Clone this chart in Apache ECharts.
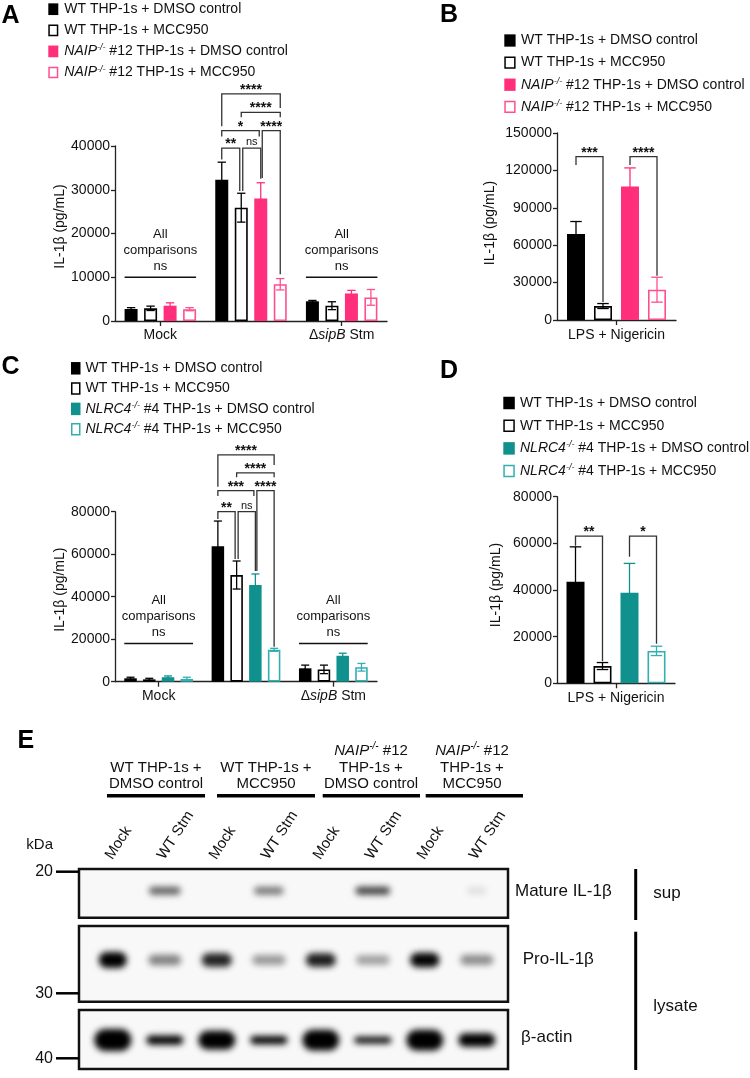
<!DOCTYPE html>
<html>
<head>
<meta charset="utf-8">
<script src="https://cdn.jsdelivr.net/npm/echarts@6.0.0/dist/echarts.min.js"></script>
<style>
html,body{margin:0;padding:0;background:#fff;}
#chart{width:750px;height:1078px;}
</style>
</head>
<body>
<div id="chart"></div>
<script>
// ======================= DATA =======================
const groupCategories = ['Mock', 'WT Stm', 'ΔsipB Stm'];
const stimCategories = ['LPS + Nigericin'];

const yTicksA = [0, 10000, 20000, 30000, 40000];
const yTicksB = [0, 30000, 60000, 90000, 120000, 150000];
const yTicksC = [0, 20000, 40000, 60000, 80000];
const yTicksD = [0, 20000, 40000, 60000, 80000];
const yAxisTitle = 'IL-1β (pg/mL)';

const seriesNAIP = ['WT THP-1s + DMSO control', 'WT THP-1s + MCC950', 'NAIP-/- #12 THP-1s + DMSO control', 'NAIP-/- #12 THP-1s + MCC950'];
const seriesNLRC4 = ['WT THP-1s + DMSO control', 'WT THP-1s + MCC950', 'NLRC4-/- #4 THP-1s + DMSO control', 'NLRC4-/- #4 THP-1s + MCC950'];

// Panel A (mean, SEM) per series across Mock / WT Stm / ΔsipB Stm
const A_wtDmso = [2750, 32300, 4500];
const A_wtMcc = [2900, 25900, 3500];
const A_koDmso = [3500, 28000, 6300];
const A_koMcc = [2700, 8400, 5400];
const A_wtDmsoErr = [300, 4000, 200];
const A_wtMccErr = [500, 3300, 900];
const A_koDmsoErr = [650, 3600, 700];
const A_koMccErr = [350, 1300, 1800];

// Panel B
const B_wtDmso = [69000];
const B_wtMcc = [11200];
const B_koDmso = [107000];
const B_koMcc = [24300];
const B_wtDmsoErr = [10000];
const B_wtMccErr = [2000];
const B_koDmsoErr = [15000];
const B_koMccErr = [10000];

// Panel C
const C_wtDmso = [1600, 63800, 6300];
const C_wtMcc = [1100, 50200, 5800];
const C_koDmso = [2100, 45500, 12200];
const C_koMcc = [1300, 15000, 6800];
const C_wtDmsoErr = [500, 11800, 1500];
const C_wtMccErr = [500, 6600, 2000];
const C_koDmsoErr = [600, 5200, 1200];
const C_koMccErr = [800, 700, 1800];

// Panel D
const D_wtDmso = [43500];
const D_wtMcc = [7400];
const D_koDmso = [38800];
const D_koMcc = [13900];
const D_wtDmsoErr = [15000];
const D_wtMccErr = [1500];
const D_koDmsoErr = [12600];
const D_koMccErr = [2000];

// Significance brackets: [category, from bar, to bar, bracket level, left-leg end, right-leg end, label]
const A_brackets = [
  [1, 0, 3, 51900, 44500, 48700, '****'],
  [1, 1, 3, 47700, 46600, 46600, '****'],
  [1, 0, 2, 43500, 42200, 42200, '*'],
  [1, 2, 3, 43500, 32700, 10700, '****'],
  [1, 0, 1, 39500, 36900, 29700, '**'],
  [1, 1, 2, 39500, 29700, 32500, 'ns']
];
const B_brackets = [
  [0, 0, 1, 131000, 124300, 14500, '***'],
  [0, 2, 3, 131000, 124300, 35500, '****']
];
const C_brackets = [
  [1, 0, 3, 106700, 91800, 102000, '****'],
  [1, 1, 3, 98300, 96200, 96200, '****'],
  [1, 0, 2, 89900, 87400, 87400, '***'],
  [1, 2, 3, 89900, 52100, 16500, '****'],
  [1, 0, 1, 80000, 76600, 57700, '**'],
  [1, 1, 2, 80000, 57700, 52100, 'ns']
];
const D_brackets = [
  [0, 0, 1, 63100, 59000, 9500, '**'],
  [0, 2, 3, 63100, 54300, 17000, '*']
];
// "All comparisons ns" notes: [category, line level]
const nsNoteWords = ['All', 'comparisons', 'ns'];
const A_nsNotes = [[0, 10000], [2, 10000]];
const C_nsNotes = [[0, 18000], [2, 18000]];

// Panel E (western blot): relative band intensity per lane
const blotLanes = ['Mock', 'WT Stm', 'Mock', 'WT Stm', 'Mock', 'WT Stm', 'Mock', 'WT Stm'];
const blotGroupHeaders = [
  ['WT THP-1s +', 'DMSO control'],
  ['WT THP-1s +', 'MCC950'],
  ['NAIP-/- #12', 'THP-1s +', 'DMSO control'],
  ['NAIP-/- #12', 'THP-1s +', 'MCC950']
];
const blotRowNames = ['Mature IL-1β', 'Pro-IL-1β', 'β-actin'];
const blotFractions = ['sup', 'lysate'];
const kDaMarkers = ['20', '30', '40'];
const matureIL1b = [0.0, 0.45, 0.0, 0.38, 0.0, 0.55, 0.0, 0.07];
const proIL1b = [1.0, 0.40, 0.72, 0.32, 0.74, 0.30, 0.82, 0.36];
const betaActin = [1.0, 0.75, 0.95, 0.72, 0.98, 0.68, 0.98, 0.85];

// ======================= STYLE =======================
const FONT = '"Liberation Sans", Arial, Helvetica, sans-serif';
const INK = '#111111';
const AXIS = '#222222';
const PINK = '#FF2F7B', PINK_LINE = '#FF4F8E';
const TEAL = '#10918E', TEAL_LINE = '#33AEB1';
const styleNAIP = [
  {fill: '#000000', line: '#000000'},
  {fill: '#ffffff', line: '#000000'},
  {fill: PINK, line: PINK},
  {fill: '#ffffff', line: PINK_LINE}
];
const styleNLRC4 = [
  {fill: '#000000', line: '#000000'},
  {fill: '#ffffff', line: '#000000'},
  {fill: TEAL, line: TEAL},
  {fill: '#ffffff', line: TEAL_LINE}
];

function richLabel(t) {
  const m = t.match(/^([A-Z0-9]+)(-\/-)(.*)$/);
  return m ? '{i|' + m[1] + '}{s|' + m[2] + '}{n|' + m[3] + '}' : '{n|' + t + '}';
}
function richStyles(size) {
  return {
    n: {fontSize: size, fontFamily: FONT, color: INK, fill: INK},
    i: {fontSize: size, fontFamily: FONT, color: INK, fill: INK, fontStyle: 'italic'},
    s: {fontSize: Math.round(size * 0.64), fontFamily: FONT, color: INK, fill: INK, fontStyle: 'italic', padding: [0, 0, Math.round(size * 0.5), 0]}
  };
}

// ======================= RENDERERS =======================
function makeErrorRenderer(k, barW, color) {
  const step = barW * 1.5, cap = barW * 0.32;
  return function (params, api) {
    const cat = api.value(0), v = api.value(1), e = api.value(2);
    const x = api.coord([cat, 0])[0] + (k - 1.5) * step;
    const yt = api.coord([cat, v + e])[1], yb = api.coord([cat, v - e])[1];
    const st = {stroke: color, lineWidth: 1.3};
    return {type: 'group', children: [
      {type: 'line', shape: {x1: x, y1: yb, x2: x, y2: yt}, style: st},
      {type: 'line', shape: {x1: x - cap, y1: yt, x2: x + cap, y2: yt}, style: st},
      {type: 'line', shape: {x1: x - cap, y1: yb, x2: x + cap, y2: yb}, style: st}
    ]};
  };
}
function makeBracketRenderer(list, barW) {
  const step = barW * 1.5;
  return function (params, api) {
    const b = list[params.dataIndex];
    const cat = b[0], from = b[1], to = b[2], level = b[3], endL = b[4], endR = b[5], label = b[6];
    const cx = api.coord([cat, 0])[0];
    let xl = cx + (from - 1.5) * step;
    let xr = cx + (to - 1.5) * step;
    if (list.some(o => o !== b && o[3] === level && o[2] === from)) xl += 1.5;
    if (list.some(o => o !== b && o[3] === level && o[1] === to)) xr -= 1.5;
    const py = api.coord([cat, level])[1];
    const pl = api.coord([cat, endL])[1];
    const pr = api.coord([cat, endR])[1];
    const isNs = label === 'ns';
    return {type: 'group', children: [
      {type: 'polyline', shape: {points: [[xl, pl], [xl, py], [xr, py], [xr, pr]]}, style: {stroke: '#333333', lineWidth: 1.3, fill: null}},
      {type: 'text', x: (xl + xr) / 2, y: py - (isNs ? 6 : 4), style: {text: label, font: isNs ? '11px ' + FONT : 'bold 14px ' + FONT, fill: INK, align: 'center', verticalAlign: 'middle'}}
    ]};
  };
}
function makeNsRenderer(list, barW) {
  const half = barW * 2.75;
  return function (params, api) {
    const g = list[params.dataIndex];
    const p = api.coord([g[0], g[1]]);
    const kids = [{type: 'line', shape: {x1: p[0] - half, y1: p[1], x2: p[0] + half, y2: p[1]}, style: {stroke: '#111111', lineWidth: 1.5}}];
    nsNoteWords.forEach((w, k) => kids.push({type: 'text', x: p[0], y: p[1] - 11 - (nsNoteWords.length - 1 - k) * 16,
      style: {text: w, font: '13px ' + FONT, fill: INK, align: 'center', verticalAlign: 'middle'}}));
    return {type: 'group', children: kids};
  };
}

// ======================= PANELS =======================
const panels = [
  {grid: {left: 115, top: 146, width: 272, height: 175}, cats: groupCategories, ticks: yTicksA, barW: 13,
   values: [A_wtDmso, A_wtMcc, A_koDmso, A_koMcc], errs: [A_wtDmsoErr, A_wtMccErr, A_koDmsoErr, A_koMccErr],
   styles: styleNAIP, names: seriesNAIP, brackets: A_brackets, notes: A_nsNotes, nameGap: 48, namePad: 14, yMargin: 5, xMargin: 7},
  {grid: {left: 557, top: 133, width: 119, height: 187}, cats: stimCategories, ticks: yTicksB, barW: 18,
   values: [B_wtDmso, B_wtMcc, B_koDmso, B_koMcc], errs: [B_wtDmsoErr, B_wtMccErr, B_koDmsoErr, B_koMccErr],
   styles: styleNAIP, names: seriesNAIP, brackets: B_brackets, notes: [], nameGap: 60, namePad: 7, yMargin: 5, xMargin: 8},
  {grid: {left: 115, top: 511.7, width: 262, height: 170}, cats: groupCategories, ticks: yTicksC, barW: 12.5,
   values: [C_wtDmso, C_wtMcc, C_koDmso, C_koMcc], errs: [C_wtDmsoErr, C_wtMccErr, C_koDmsoErr, C_koMccErr],
   styles: styleNLRC4, names: seriesNLRC4, brackets: C_brackets, notes: C_nsNotes, nameGap: 48, namePad: 14, yMargin: 5, xMargin: 7},
  {grid: {left: 557, top: 496.7, width: 118, height: 186.6}, cats: stimCategories, ticks: yTicksD, barW: 18,
   values: [D_wtDmso, D_wtMcc, D_koDmso, D_koMcc], errs: [D_wtDmsoErr, D_wtMccErr, D_koDmsoErr, D_koMccErr],
   styles: styleNLRC4, names: seriesNLRC4, brackets: D_brackets, notes: [], nameGap: 54, namePad: 10, yMargin: 5, xMargin: 8}
];

const option = {animation: false, backgroundColor: '#ffffff', grid: [], xAxis: [], yAxis: [], series: [], graphic: []};
const axisLineStyle = {color: AXIS, width: 1.3};

panels.forEach((p, i) => {
  option.grid.push(Object.assign({outerBoundsMode: 'none', containLabel: false, show: false}, p.grid));
  option.xAxis.push({
    type: 'category', gridIndex: i, data: p.cats,
    axisLine: {show: true, lineStyle: axisLineStyle},
    axisTick: {show: true, alignWithLabel: true, length: 5, lineStyle: axisLineStyle},
    axisLabel: {margin: p.xMargin, color: INK, fontSize: 14, fontFamily: FONT,
      formatter: v => v.replace('sipB', '{i|sipB}'),
      rich: {i: {fontStyle: 'italic', fontSize: 14, fontFamily: FONT, color: INK}}},
    splitLine: {show: false}
  });
  option.yAxis.push({
    type: 'value', gridIndex: i, min: p.ticks[0], max: p.ticks[p.ticks.length - 1], interval: p.ticks[1] - p.ticks[0],
    name: yAxisTitle, nameLocation: 'middle', nameGap: p.nameGap, nameRotate: 90, nameMoveOverlap: false,
    nameTextStyle: {fontSize: 14, color: INK, fontFamily: FONT, padding: [0, 0, 0, p.namePad]},
    axisLine: {show: true, lineStyle: axisLineStyle},
    axisTick: {show: true, length: 4, lineStyle: axisLineStyle},
    axisLabel: {margin: p.yMargin, color: INK, fontSize: 14, fontFamily: FONT, formatter: v => String(v)},
    splitLine: {show: false}
  });
  p.values.forEach((vals, k) => {
    const st = p.styles[k];
    const outlined = st.fill === '#ffffff';
    option.series.push({
      type: 'bar', name: p.names[k], xAxisIndex: i, yAxisIndex: i, data: vals, barWidth: p.barW, barGap: '50%', z: 2,
      itemStyle: {color: st.fill, borderColor: st.line, borderWidth: outlined ? 1.6 : 0}
    });
  });
  p.values.forEach((vals, k) => {
    option.series.push({
      type: 'custom', xAxisIndex: i, yAxisIndex: i, z: 3, clip: false,
      data: vals.map((v, j) => [j, v, p.errs[k][j]]), encode: {x: 0, y: 1},
      renderItem: makeErrorRenderer(k, p.barW, p.styles[k].line)
    });
  });
  option.series.push({
    type: 'custom', xAxisIndex: i, yAxisIndex: i, z: 4, clip: false,
    data: p.brackets.map(b => [b[0], b[3]]), encode: {x: 0, y: 1},
    renderItem: makeBracketRenderer(p.brackets, p.barW)
  });
  if (p.notes.length) {
    option.series.push({
      type: 'custom', xAxisIndex: i, yAxisIndex: i, z: 4, clip: false,
      data: p.notes.map(n => [n[0], n[1]]), encode: {x: 0, y: 1},
      renderItem: makeNsRenderer(p.notes, p.barW)
    });
  }
});

// ---------- Blot panel ----------
const blotBoxes = [{top: 869, height: 48.7}, {top: 926, height: 75.7}, {top: 1010, height: 59}];
const blotRows = [matureIL1b, proIL1b, betaActin];
const bandLook = [
  {rowY: 0.554, blur: 6, w: I => 18 + 30 * I, h: I => 8, a: I => Math.min(1, I * 1.35)},
  {rowY: 0.551, blur: 6, w: I => 36 - 8 * I, h: I => 7 + 9 * I, a: I => Math.min(1, I * 1.2)},
  {rowY: 0.49, blur: 6, w: I => 37, h: I => Math.max(5, 22 * I * I * I), a: I => Math.min(1, 0.3 + I)}
];
blotBoxes.forEach((b, r) => {
  const gi = 4 + r;
  option.grid.push({left: 79, width: 429, top: b.top, height: b.height, show: true, borderColor: '#111111', borderWidth: 2.5,
    backgroundColor: '#f8f8f8', outerBoundsMode: 'none', containLabel: false});
  option.xAxis.push({type: 'value', gridIndex: gi, min: 0.35, max: 8.6, show: false});
  option.yAxis.push({type: 'value', gridIndex: gi, min: 0, max: 1, show: false});
  const look = bandLook[r];
  option.series.push({
    type: 'custom', xAxisIndex: gi, yAxisIndex: gi, z: 3, clip: false,
    data: blotRows[r].map((I, j) => [j + 1, look.rowY, I]), encode: {x: 0, y: 1},
    renderItem: function (params, api) {
      const I = api.value(2);
      if (I < 0.01) return null;
      const c = api.coord([api.value(0), api.value(1)]);
      const w = look.w(I), h = look.h(I), a = look.a(I);
      const OFF = 3000;
      return {type: 'rect', shape: {x: c[0] - w / 2 - OFF, y: c[1] - h / 2, width: w, height: h, r: h / 2},
        style: {fill: '#000000', shadowBlur: look.blur, shadowColor: 'rgba(0,0,0,' + a.toFixed(3) + ')', shadowOffsetX: OFF, shadowOffsetY: 0}};
    }
  });
});
// rotated lane labels above the first blot box
option.series.push({
  type: 'custom', xAxisIndex: 4, yAxisIndex: 4, z: 4, clip: false,
  data: blotLanes.map((_, j) => [j + 1, 1]), encode: {x: 0, y: 1},
  renderItem: function (params, api) {
    const c = api.coord([api.value(0), api.value(1)]);
    return {type: 'text', x: c[0] - 4, y: c[1] - 11, rotation: 57 * Math.PI / 180,
      style: {text: blotLanes[params.dataIndex], font: '15px ' + FONT, fill: INK, align: 'left', verticalAlign: 'middle'}};
  }
});

// ---------- Graphics: legends, panel letters, blot annotations ----------
function legendItems(cfg, labels, styles) {
  const out = [];
  labels.forEach((lab, k) => {
    const cy = cfg.y0 + k * cfg.dy;
    const st = styles[k];
    const outlined = st.fill === '#ffffff';
    out.push({type: 'rect', shape: {x: cfg.x + (outlined ? 0.75 : 0), y: cy - cfg.h / 2 + (outlined ? 0.75 : 0),
      width: cfg.w - (outlined ? 1.5 : 0), height: cfg.h - (outlined ? 1.5 : 0)},
      style: {fill: st.fill, stroke: outlined ? st.line : null, lineWidth: outlined ? 1.5 : 0}});
    out.push({type: 'text', x: cfg.tx, y: cy, style: {text: richLabel(lab), rich: richStyles(14), font: '14px ' + FONT,
      fill: INK, align: 'left', verticalAlign: 'middle'}});
  });
  return out;
}
const G = option.graphic;
G.push(...legendItems({x: 48.3, w: 10, h: 11.7, y0: 9.2, dy: 21.1, tx: 64.3}, seriesNAIP, styleNAIP));
G.push(...legendItems({x: 504.3, w: 11.3, h: 12.3, y0: 40.5, dy: 22.1, tx: 521}, seriesNAIP, styleNAIP));
G.push(...legendItems({x: 71, w: 9.5, h: 12.5, y0: 368.3, dy: 20.3, tx: 85.5}, seriesNLRC4, styleNLRC4));
G.push(...legendItems({x: 503.3, w: 11.5, h: 12.5, y0: 403, dy: 22.7, tx: 520}, seriesNLRC4, styleNLRC4));

const panelLetters = [['A', 1.5, 16], ['B', 440, 15.3], ['C', 1.5, 367], ['D', 440, 371], ['E', 17.5, 741.5]];
panelLetters.forEach(l => G.push({type: 'text', x: l[1], y: l[2], style: {text: l[0], font: 'bold 25px ' + FONT, fill: '#000', align: 'left', verticalAlign: 'middle'}}));

// blot group headers
const headerLayout = [
  {cx: 156, x1: 107, x2: 205}, {cx: 266, x1: 217, x2: 315}, {cx: 371, x1: 322.7, x2: 420}, {cx: 472, x1: 425.7, x2: 523}
];
blotGroupHeaders.forEach((lines, g) => {
  const L = headerLayout[g];
  lines.forEach((t, k) => {
    const y = 784.3 - (lines.length - 1 - k) * 16.8;
    G.push({type: 'text', x: L.cx, y: y, style: {text: richLabel(t), rich: richStyles(15), font: '15px ' + FONT, fill: INK, align: 'center', verticalAlign: 'middle'}});
  });
  G.push({type: 'line', shape: {x1: L.x1, y1: 795.7, x2: L.x2, y2: 795.7}, style: {stroke: '#000', lineWidth: 3.5}});
});
// kDa markers
G.push({type: 'text', x: 53, y: 845, style: {text: 'kDa', font: '15px ' + FONT, fill: INK, align: 'right', verticalAlign: 'middle'}});
const markerY = [871.7, 993.3, 1058.3];
kDaMarkers.forEach((m, k) => {
  G.push({type: 'text', x: 53, y: markerY[k], style: {text: m, font: '16px ' + FONT, fill: INK, align: 'right', verticalAlign: 'middle'}});
  G.push({type: 'line', shape: {x1: 56, y1: markerY[k], x2: 79, y2: markerY[k]}, style: {stroke: '#000', lineWidth: 2.5}});
});
// row names
const rowNamePos = [[515, 891.7], [522.7, 959.3], [521, 1037]];
blotRowNames.forEach((t, k) => G.push({type: 'text', x: rowNamePos[k][0], y: rowNamePos[k][1],
  style: {text: t, font: '17px ' + FONT, fill: INK, align: 'left', verticalAlign: 'middle'}}));
// fraction brackets
G.push({type: 'line', shape: {x1: 635.7, y1: 869, x2: 635.7, y2: 920}, style: {stroke: '#000', lineWidth: 3}});
G.push({type: 'line', shape: {x1: 635.7, y1: 931.7, x2: 635.7, y2: 1070}, style: {stroke: '#000', lineWidth: 3}});
G.push({type: 'text', x: 653.3, y: 893, style: {text: blotFractions[0], font: '17px ' + FONT, fill: INK, align: 'left', verticalAlign: 'middle'}});
G.push({type: 'text', x: 653.3, y: 1006, style: {text: blotFractions[1], font: '17px ' + FONT, fill: INK, align: 'left', verticalAlign: 'middle'}});

const chart = echarts.init(document.getElementById('chart'), null, {renderer: 'canvas', width: 750, height: 1078});
chart.setOption(option);
</script>
</body>
</html>
